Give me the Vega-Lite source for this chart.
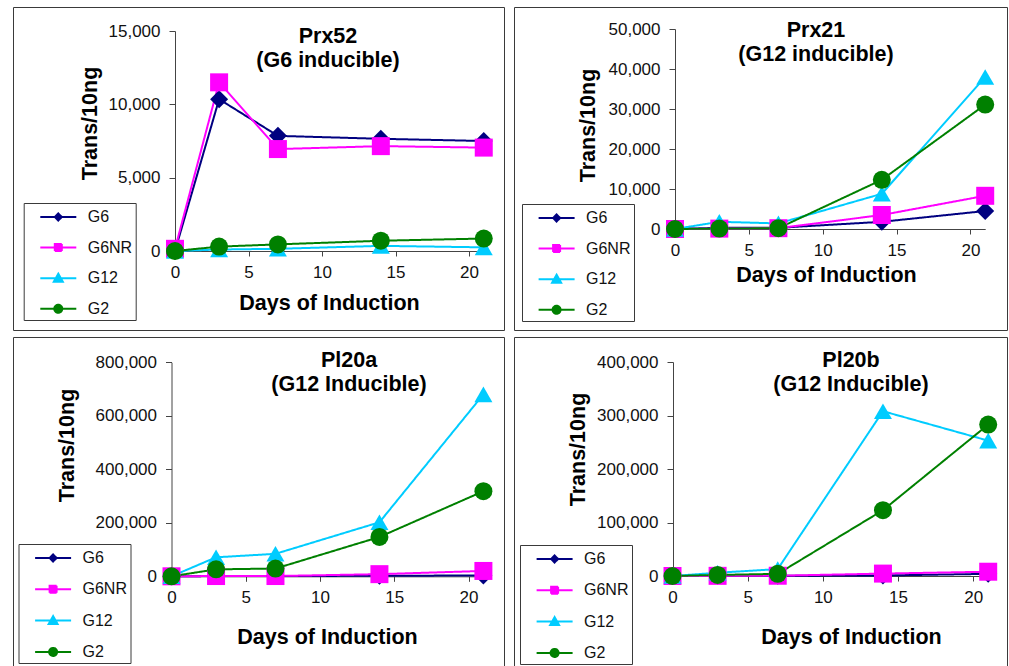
{
  "$schema": "https://vega.github.io/schema/vega-lite/v6.json",
  "padding": {"left": 12, "top": 6, "right": 0, "bottom": 0},
  "background": "white",
  "data": {"values": [
    {"panel": "Prx52", "series": "G6", "day": 0, "value": 0},
    {"panel": "Prx52", "series": "G6", "day": 3, "value": 10350},
    {"panel": "Prx52", "series": "G6", "day": 7, "value": 7850},
    {"panel": "Prx52", "series": "G6", "day": 14, "value": 7650},
    {"panel": "Prx52", "series": "G6", "day": 21, "value": 7500},
    {"panel": "Prx52", "series": "G6NR", "day": 0, "value": 150},
    {"panel": "Prx52", "series": "G6NR", "day": 3, "value": 11500},
    {"panel": "Prx52", "series": "G6NR", "day": 7, "value": 6950},
    {"panel": "Prx52", "series": "G6NR", "day": 14, "value": 7150},
    {"panel": "Prx52", "series": "G6NR", "day": 21, "value": 7050},
    {"panel": "Prx52", "series": "G12", "day": 0, "value": 0},
    {"panel": "Prx52", "series": "G12", "day": 3, "value": 100},
    {"panel": "Prx52", "series": "G12", "day": 7, "value": 150},
    {"panel": "Prx52", "series": "G12", "day": 14, "value": 350},
    {"panel": "Prx52", "series": "G12", "day": 21, "value": 250},
    {"panel": "Prx52", "series": "G2", "day": 0, "value": 0},
    {"panel": "Prx52", "series": "G2", "day": 3, "value": 300},
    {"panel": "Prx52", "series": "G2", "day": 7, "value": 450},
    {"panel": "Prx52", "series": "G2", "day": 14, "value": 700},
    {"panel": "Prx52", "series": "G2", "day": 21, "value": 850},
    {"panel": "Prx21", "series": "G6", "day": 0, "value": 0},
    {"panel": "Prx21", "series": "G6", "day": 3, "value": 300},
    {"panel": "Prx21", "series": "G6", "day": 7, "value": 300},
    {"panel": "Prx21", "series": "G6", "day": 14, "value": 1800},
    {"panel": "Prx21", "series": "G6", "day": 21, "value": 4500},
    {"panel": "Prx21", "series": "G6NR", "day": 0, "value": 0},
    {"panel": "Prx21", "series": "G6NR", "day": 3, "value": 100},
    {"panel": "Prx21", "series": "G6NR", "day": 7, "value": 200},
    {"panel": "Prx21", "series": "G6NR", "day": 14, "value": 3500},
    {"panel": "Prx21", "series": "G6NR", "day": 21, "value": 8300},
    {"panel": "Prx21", "series": "G12", "day": 0, "value": 0},
    {"panel": "Prx21", "series": "G12", "day": 3, "value": 1800},
    {"panel": "Prx21", "series": "G12", "day": 7, "value": 1400},
    {"panel": "Prx21", "series": "G12", "day": 14, "value": 8800},
    {"panel": "Prx21", "series": "G12", "day": 21, "value": 38000},
    {"panel": "Prx21", "series": "G2", "day": 0, "value": 0},
    {"panel": "Prx21", "series": "G2", "day": 3, "value": 100},
    {"panel": "Prx21", "series": "G2", "day": 7, "value": 200},
    {"panel": "Prx21", "series": "G2", "day": 14, "value": 12300},
    {"panel": "Prx21", "series": "G2", "day": 21, "value": 31100},
    {"panel": "Pl20a", "series": "G6", "day": 0, "value": 0},
    {"panel": "Pl20a", "series": "G6", "day": 3, "value": 1000},
    {"panel": "Pl20a", "series": "G6", "day": 7, "value": 1000},
    {"panel": "Pl20a", "series": "G6", "day": 14, "value": 2000},
    {"panel": "Pl20a", "series": "G6", "day": 21, "value": 3000},
    {"panel": "Pl20a", "series": "G6NR", "day": 0, "value": 0},
    {"panel": "Pl20a", "series": "G6NR", "day": 3, "value": 1000},
    {"panel": "Pl20a", "series": "G6NR", "day": 7, "value": 1000},
    {"panel": "Pl20a", "series": "G6NR", "day": 14, "value": 8000},
    {"panel": "Pl20a", "series": "G6NR", "day": 21, "value": 20000},
    {"panel": "Pl20a", "series": "G12", "day": 0, "value": 0},
    {"panel": "Pl20a", "series": "G12", "day": 3, "value": 71000},
    {"panel": "Pl20a", "series": "G12", "day": 7, "value": 84000},
    {"panel": "Pl20a", "series": "G12", "day": 14, "value": 202000},
    {"panel": "Pl20a", "series": "G12", "day": 21, "value": 680000},
    {"panel": "Pl20a", "series": "G2", "day": 0, "value": 0},
    {"panel": "Pl20a", "series": "G2", "day": 3, "value": 26000},
    {"panel": "Pl20a", "series": "G2", "day": 7, "value": 29000},
    {"panel": "Pl20a", "series": "G2", "day": 14, "value": 147000},
    {"panel": "Pl20a", "series": "G2", "day": 21, "value": 318000},
    {"panel": "Pl20b", "series": "G6", "day": 0, "value": 0},
    {"panel": "Pl20b", "series": "G6", "day": 3, "value": 300},
    {"panel": "Pl20b", "series": "G6", "day": 7, "value": 500},
    {"panel": "Pl20b", "series": "G6", "day": 14, "value": 1000},
    {"panel": "Pl20b", "series": "G6", "day": 21, "value": 4000},
    {"panel": "Pl20b", "series": "G6NR", "day": 0, "value": 0},
    {"panel": "Pl20b", "series": "G6NR", "day": 3, "value": 300},
    {"panel": "Pl20b", "series": "G6NR", "day": 7, "value": 500},
    {"panel": "Pl20b", "series": "G6NR", "day": 14, "value": 4500},
    {"panel": "Pl20b", "series": "G6NR", "day": 21, "value": 8000},
    {"panel": "Pl20b", "series": "G12", "day": 0, "value": 0},
    {"panel": "Pl20b", "series": "G12", "day": 3, "value": 6000},
    {"panel": "Pl20b", "series": "G12", "day": 7, "value": 13000},
    {"panel": "Pl20b", "series": "G12", "day": 14, "value": 308000},
    {"panel": "Pl20b", "series": "G12", "day": 21, "value": 253000},
    {"panel": "Pl20b", "series": "G2", "day": 0, "value": 0},
    {"panel": "Pl20b", "series": "G2", "day": 3, "value": 2000},
    {"panel": "Pl20b", "series": "G2", "day": 7, "value": 4000},
    {"panel": "Pl20b", "series": "G2", "day": 14, "value": 123000},
    {"panel": "Pl20b", "series": "G2", "day": 21, "value": 283000}
  ]},
  "spacing": 5,
  "resolve": {"scale": {"color": "independent", "shape": "independent", "size": "independent", "strokeDash": "independent"}, "legend": {"strokeDash": "independent"}},
  "vconcat": [
    {
      "spacing": 8,
      "resolve": {"scale": {"color": "independent", "shape": "independent", "size": "independent", "strokeDash": "independent"}, "legend": {"strokeDash": "independent"}},
      "hconcat": [
        {
          "width": 491, "height": 323,
          "title": {"text": ["Prx52", "(G6 inducible)"], "dx": 69.5, "dy": 15},
          "transform": [{"filter": "datum.panel === 'Prx52'"}],
          "encoding": {
            "x": {"field": "day", "type": "quantitative", "scale": {"domain": [0, 20.5], "range": [162, 463.4], "nice": false, "zero": false},
                  "axis": {"title": "Days of Induction", "offset": -79, "values": [0, 5, 10, 15, 20], "titleX": 316, "titleY": 52}},
            "y": {"field": "value", "type": "quantitative", "scale": {"domain": [0, 15000], "range": [244, 24], "nice": false},
                  "axis": {"title": "Trans/10ng", "offset": -162, "values": [0, 5000, 10000, 15000], "format": ",.0f", "titleX": -85, "titleY": 116}},
            "color": {"field": "series", "type": "nominal", "scale": {"domain": ["G2", "G12", "G6NR", "G6"], "range": ["#008000", "#00CCFF", "#FF00FF", "#000080"]}, "legend": null}
          },
          "layer": [
            {"mark": {"type": "line", "strokeWidth": 2},
             "encoding": {
               "strokeDash": {"field": "series", "type": "nominal", "scale": {"domain": ["G6", "G6NR", "G12", "G2"], "range": [[1, 0], [1, 0], [1, 0], [1, 0]]},
                 "legend": {"title": null, "orient": "none", "legendX": 10.7, "legendY": 196, "rowPadding": 11.6, "labelExpr": "datum.label + '\u2007\u2007\u2007\u00a0'",
                   "encode": {"symbols": {"update": {
                     "shape": {"signal": "datum.value === 'G6' ? 'M-1.8,0H1.8M0,-0.35L0.35,0L0,0.35L-0.35,0Z' : datum.value === 'G6NR' ? 'M-1.8,0H1.8M-0.35,-0.35H0.35V0.35H-0.35Z' : datum.value === 'G12' ? 'M-1.8,0H1.8M0,-0.45L0.45,0.35L-0.45,0.35Z' : 'M-1.8,0H1.8M0.4,0A0.4,0.4,0,1,1,-0.4,0A0.4,0.4,0,1,1,0.4,0Z'"},
                     "fill": {"signal": "datum.value === 'G6' ? '#000080' : datum.value === 'G6NR' ? '#FF00FF' : datum.value === 'G12' ? '#00CCFF' : '#008000'"},
                     "stroke": {"signal": "datum.value === 'G6' ? '#000080' : datum.value === 'G6NR' ? '#FF00FF' : datum.value === 'G12' ? '#00CCFF' : '#008000'"},
                     "strokeWidth": {"value": 2}, "opacity": {"value": 1}, "fillOpacity": {"value": 1}, "strokeOpacity": {"value": 1}}}}}}}},
            {"mark": {"type": "point", "filled": true, "opacity": 1},
             "encoding": {
               "shape": {"field": "series", "type": "nominal", "scale": {"domain": ["G2", "G12", "G6NR", "G6"], "range": ["circle", "triangle-up", "square", "diamond"]}, "legend": null},
               "size": {"field": "series", "type": "nominal", "scale": {"domain": ["G2", "G12", "G6NR", "G6"], "range": [324, 324, 361, 225]}, "legend": null}}}
          ]
        },
        {
          "width": 493, "height": 323,
          "title": {"text": ["Prx21", "(G12 inducible)"], "dx": 55.5, "dy": 9},
          "transform": [{"filter": "datum.panel === 'Prx21'"}],
          "encoding": {
            "x": {"field": "day", "type": "quantitative", "scale": {"domain": [0, 21], "range": [161, 471.2], "nice": false, "zero": false},
                  "axis": {"title": "Days of Induction", "offset": -101, "values": [0, 5, 10, 15, 20], "titleX": 312, "titleY": 46}},
            "y": {"field": "value", "type": "quantitative", "scale": {"domain": [0, 50000], "range": [222, 22], "nice": false},
                  "axis": {"title": "Trans/10ng", "offset": -161, "values": [0, 10000, 20000, 30000, 40000, 50000], "format": ",.0f", "titleX": -87, "titleY": 118}},
            "color": {"field": "series", "type": "nominal", "scale": {"domain": ["G2", "G12", "G6NR", "G6"], "range": ["#008000", "#00CCFF", "#FF00FF", "#000080"]}, "legend": null}
          },
          "layer": [
            {"mark": {"type": "line", "strokeWidth": 2},
             "encoding": {
               "strokeDash": {"field": "series", "type": "nominal", "scale": {"domain": ["G6", "G6NR", "G12", "G2"], "range": [[1, 0], [1, 0], [1, 0], [1, 0]]},
                 "legend": {"title": null, "orient": "none", "legendX": 8, "legendY": 197, "rowPadding": 11.6, "labelExpr": "datum.label + '\u2007\u2007\u00a0\u2009'",
                   "encode": {"symbols": {"update": {
                     "shape": {"signal": "datum.value === 'G6' ? 'M-1.8,0H1.8M0,-0.35L0.35,0L0,0.35L-0.35,0Z' : datum.value === 'G6NR' ? 'M-1.8,0H1.8M-0.35,-0.35H0.35V0.35H-0.35Z' : datum.value === 'G12' ? 'M-1.8,0H1.8M0,-0.45L0.45,0.35L-0.45,0.35Z' : 'M-1.8,0H1.8M0.4,0A0.4,0.4,0,1,1,-0.4,0A0.4,0.4,0,1,1,0.4,0Z'"},
                     "fill": {"signal": "datum.value === 'G6' ? '#000080' : datum.value === 'G6NR' ? '#FF00FF' : datum.value === 'G12' ? '#00CCFF' : '#008000'"},
                     "stroke": {"signal": "datum.value === 'G6' ? '#000080' : datum.value === 'G6NR' ? '#FF00FF' : datum.value === 'G12' ? '#00CCFF' : '#008000'"},
                     "strokeWidth": {"value": 2}, "opacity": {"value": 1}, "fillOpacity": {"value": 1}, "strokeOpacity": {"value": 1}}}}}}}},
            {"mark": {"type": "point", "filled": true, "opacity": 1},
             "encoding": {
               "shape": {"field": "series", "type": "nominal", "scale": {"domain": ["G2", "G12", "G6NR", "G6"], "range": ["circle", "triangle-up", "square", "diamond"]}, "legend": null},
               "size": {"field": "series", "type": "nominal", "scale": {"domain": ["G2", "G12", "G6NR", "G6"], "range": [324, 324, 361, 225]}, "legend": null}}}
          ]
        }
      ]
    },
    {
      "spacing": 8,
      "resolve": {"scale": {"color": "independent", "shape": "independent", "size": "independent", "strokeDash": "independent"}, "legend": {"strokeDash": "independent"}},
      "hconcat": [
        {
          "width": 491, "height": 332,
          "title": {"text": ["Pl20a", "(G12 Inducible)"], "dx": 90.5, "dy": 9},
          "transform": [{"filter": "datum.panel === 'Pl20a'"}],
          "encoding": {
            "x": {"field": "day", "type": "quantitative", "scale": {"domain": [0, 21], "range": [158.5, 470.4], "nice": false, "zero": false},
                  "axis": {"title": "Days of Induction", "offset": -92.7, "values": [0, 5, 10, 15, 20], "titleX": 314, "titleY": 61}},
            "y": {"field": "value", "type": "quantitative", "scale": {"domain": [0, 800000], "range": [239.3, 25.3], "nice": false},
                  "axis": {"title": "Trans/10ng", "offset": -158.5, "values": [0, 200000, 400000, 600000, 800000], "format": ",.0f", "titleX": -104, "titleY": 108}},
            "color": {"field": "series", "type": "nominal", "scale": {"domain": ["G2", "G12", "G6NR", "G6"], "range": ["#008000", "#00CCFF", "#FF00FF", "#000080"]}, "legend": null}
          },
          "layer": [
            {"mark": {"type": "line", "strokeWidth": 2},
             "encoding": {
               "strokeDash": {"field": "series", "type": "nominal", "scale": {"domain": ["G6", "G6NR", "G12", "G2"], "range": [[1, 0], [1, 0], [1, 0], [1, 0]]},
                 "legend": {"title": null, "orient": "none", "legendX": 5.5, "legendY": 207, "rowPadding": 12.3, "labelExpr": "datum.label + '\u2007\u2007\u00a0\u00a0\u2009'",
                   "encode": {"symbols": {"update": {
                     "shape": {"signal": "datum.value === 'G6' ? 'M-1.8,0H1.8M0,-0.35L0.35,0L0,0.35L-0.35,0Z' : datum.value === 'G6NR' ? 'M-1.8,0H1.8M-0.35,-0.35H0.35V0.35H-0.35Z' : datum.value === 'G12' ? 'M-1.8,0H1.8M0,-0.45L0.45,0.35L-0.45,0.35Z' : 'M-1.8,0H1.8M0.4,0A0.4,0.4,0,1,1,-0.4,0A0.4,0.4,0,1,1,0.4,0Z'"},
                     "fill": {"signal": "datum.value === 'G6' ? '#000080' : datum.value === 'G6NR' ? '#FF00FF' : datum.value === 'G12' ? '#00CCFF' : '#008000'"},
                     "stroke": {"signal": "datum.value === 'G6' ? '#000080' : datum.value === 'G6NR' ? '#FF00FF' : datum.value === 'G12' ? '#00CCFF' : '#008000'"},
                     "strokeWidth": {"value": 2}, "opacity": {"value": 1}, "fillOpacity": {"value": 1}, "strokeOpacity": {"value": 1}}}}}}}},
            {"mark": {"type": "point", "filled": true, "opacity": 1},
             "encoding": {
               "shape": {"field": "series", "type": "nominal", "scale": {"domain": ["G2", "G12", "G6NR", "G6"], "range": ["circle", "triangle-up", "square", "diamond"]}, "legend": null},
               "size": {"field": "series", "type": "nominal", "scale": {"domain": ["G2", "G12", "G6NR", "G6"], "range": [324, 324, 361, 225]}, "legend": null}}}
          ]
        },
        {
          "width": 493, "height": 332,
          "title": {"text": ["Pl20b", "(G12 Inducible)"], "dx": 90.5, "dy": 9},
          "transform": [{"filter": "datum.panel === 'Pl20b'"}],
          "encoding": {
            "x": {"field": "day", "type": "quantitative", "scale": {"domain": [0, 21], "range": [158.5, 474.2], "nice": false, "zero": false},
                  "axis": {"title": "Days of Induction", "offset": -93, "values": [0, 5, 10, 15, 20], "titleX": 337, "titleY": 61}},
            "y": {"field": "value", "type": "quantitative", "scale": {"domain": [0, 400000], "range": [239, 25], "nice": false},
                  "axis": {"title": "Trans/10ng", "offset": -159, "values": [0, 100000, 200000, 300000, 400000], "format": ",.0f", "titleX": -95, "titleY": 112}},
            "color": {"field": "series", "type": "nominal", "scale": {"domain": ["G2", "G12", "G6NR", "G6"], "range": ["#008000", "#00CCFF", "#FF00FF", "#000080"]}, "legend": null}
          },
          "layer": [
            {"mark": {"type": "line", "strokeWidth": 2},
             "encoding": {
               "strokeDash": {"field": "series", "type": "nominal", "scale": {"domain": ["G6", "G6NR", "G12", "G2"], "range": [[1, 0], [1, 0], [1, 0], [1, 0]]},
                 "legend": {"title": null, "orient": "none", "legendX": 6, "legendY": 208, "rowPadding": 12.3, "labelExpr": "datum.label + '\u2007\u2007\u00a0\u00a0'",
                   "encode": {"symbols": {"update": {
                     "shape": {"signal": "datum.value === 'G6' ? 'M-1.8,0H1.8M0,-0.35L0.35,0L0,0.35L-0.35,0Z' : datum.value === 'G6NR' ? 'M-1.8,0H1.8M-0.35,-0.35H0.35V0.35H-0.35Z' : datum.value === 'G12' ? 'M-1.8,0H1.8M0,-0.45L0.45,0.35L-0.45,0.35Z' : 'M-1.8,0H1.8M0.4,0A0.4,0.4,0,1,1,-0.4,0A0.4,0.4,0,1,1,0.4,0Z'"},
                     "fill": {"signal": "datum.value === 'G6' ? '#000080' : datum.value === 'G6NR' ? '#FF00FF' : datum.value === 'G12' ? '#00CCFF' : '#008000'"},
                     "stroke": {"signal": "datum.value === 'G6' ? '#000080' : datum.value === 'G6NR' ? '#FF00FF' : datum.value === 'G12' ? '#00CCFF' : '#008000'"},
                     "strokeWidth": {"value": 2}, "opacity": {"value": 1}, "fillOpacity": {"value": 1}, "strokeOpacity": {"value": 1}}}}}}}},
            {"mark": {"type": "point", "filled": true, "opacity": 1},
             "encoding": {
               "shape": {"field": "series", "type": "nominal", "scale": {"domain": ["G2", "G12", "G6NR", "G6"], "range": ["circle", "triangle-up", "square", "diamond"]}, "legend": null},
               "size": {"field": "series", "type": "nominal", "scale": {"domain": ["G2", "G12", "G6NR", "G6"], "range": [324, 324, 361, 225]}, "legend": null}}}
          ]
        }
      ]
    }
  ],
  "config": {
    "font": "Liberation Sans",
    "view": {"stroke": "#3a3a3a", "strokeWidth": 1},
    "title": {"anchor": "middle", "frame": "group", "offset": -49.5, "fontSize": 21.5, "fontWeight": "bold", "lineHeight": 24, "color": "#000000", "font": "Liberation Sans"},
    "axis": {"grid": false, "domainColor": "#444444", "tickColor": "#444444", "labelColor": "#111111", "labelFontSize": 17, "labelFont": "Liberation Sans",
             "titleFontSize": 21.5, "titleFontWeight": "bold", "titleColor": "#000000", "titleFont": "Liberation Sans",
             "labelFlush": false, "labelOverlap": false, "labelBound": false, "domainWidth": 1, "tickWidth": 1, "titleAlign": "center", "titleBaseline": "middle"},
    "axisX": {"tickSize": 5, "labelPadding": 8, "titleAngle": 0},
    "axisY": {"tickSize": 6, "labelPadding": 9, "titleAngle": 270},
    "legend": {"direction": "vertical", "strokeColor": "#3a3a3a", "fillColor": "#ffffff", "padding": 3, "symbolOffset": 20.6, "symbolSize": 400, "symbolStrokeWidth": 2,
               "labelOffset": 18.4, "labelFontSize": 16, "labelColor": "#111111", "labelFont": "Liberation Sans", "cornerRadius": 0}
  }
}
